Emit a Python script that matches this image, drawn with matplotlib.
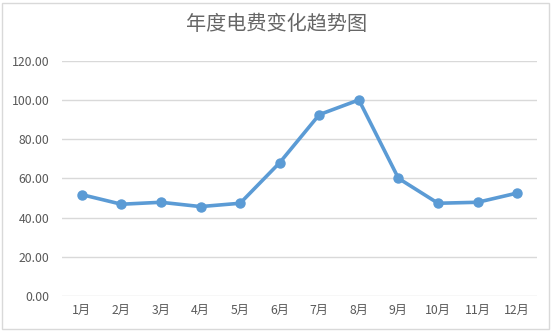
import matplotlib.pyplot as plt
from matplotlib.patches import Rectangle

plt.rcParams['font.family'] = ['Noto Sans CJK SC', 'DejaVu Sans']

months = ['1月', '2月', '3月', '4月', '5月', '6月', '7月', '8月', '9月', '10月', '11月', '12月']
fees = [51.7, 46.8, 47.8, 45.6, 47.3, 68.0, 92.5, 100.0, 60.0, 47.3, 47.8, 52.5]
yticks = [0, 20, 40, 60, 80, 100, 120]

W, H = 551, 335
fig = plt.figure(figsize=(W / 100, H / 100), dpi=100)
fig.patch.set_facecolor('white')

# outer chart border
fig.patches.append(Rectangle((2 / W, (H - 329) / H), 547 / W, 326 / H,
                             transform=fig.transFigure, fill=False,
                             edgecolor='#d9d9d9', linewidth=1))

ax = fig.add_axes([62 / W, 39 / H, 475 / W, 235.3 / H])
x = list(range(len(months)))
ax.plot(x, fees, color='#5b9bd5', linewidth=2.6, marker='o', markersize=6.5,
        markerfacecolor='#5b9bd5', markeredgecolor='#5b9bd5', zorder=3)

ax.set_xlim(-0.5, len(months) - 0.5)
ax.set_ylim(0, 120)
ax.set_yticks(yticks)
ax.set_yticklabels([f'{v:.2f}' for v in yticks])
ax.set_xticks(x)
ax.set_xticklabels(months)
ax.grid(axis='y', color='#d9d9d9', linewidth=1)
ax.set_axisbelow(True)
for s in ax.spines.values():
    s.set_visible(False)
ax.tick_params(axis='both', length=0, colors='#595959', labelsize=8.8)
ax.tick_params(axis='y', pad=9)
ax.tick_params(axis='x', pad=6)

fig.text(277 / W, (H - 25) / H, '年度电费变化趋势图', ha='center', va='center',
         fontsize=14.5, color='#666666')

fig.savefig('out.png', dpi=100)
